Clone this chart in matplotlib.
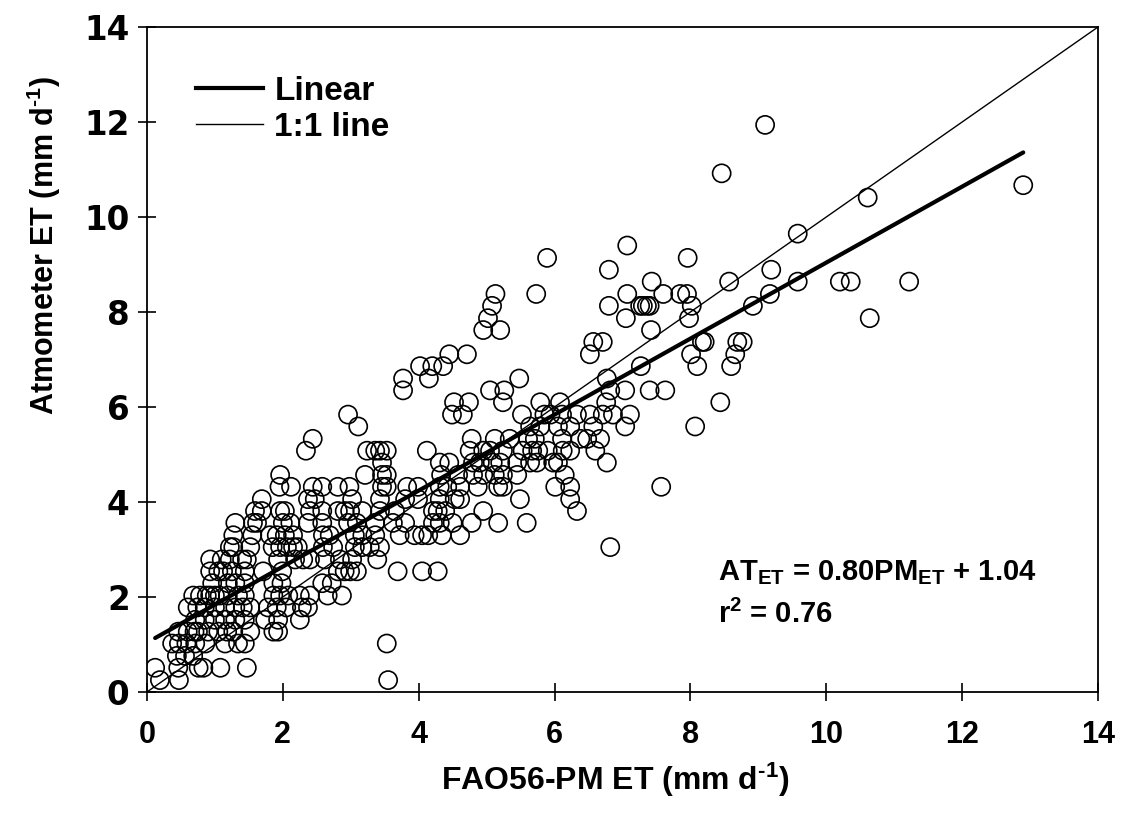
import matplotlib
matplotlib.use("Agg")
import matplotlib.pyplot as plt
from matplotlib.lines import Line2D

plt.rcParams['font.family'] = ['Liberation Sans', 'DejaVu Sans']
plt.rcParams['font.weight'] = 'bold'
plt.rcParams['mathtext.fontset'] = 'custom'
plt.rcParams['mathtext.rm'] = 'Liberation Sans:bold'
plt.rcParams['mathtext.bf'] = 'Liberation Sans:bold'
plt.rcParams['mathtext.it'] = 'Liberation Sans:bold'

# FAO56-PM ET (x) and atmometer ET (y)
pm_et = [
    0.19, 0.47, 3.55,
    0.12, 0.46, 0.76, 0.83, 1.08, 1.47,
    0.44, 0.56, 0.68,
    0.37, 0.47, 0.58, 0.71, 0.86, 1.15, 1.34, 1.44, 3.53,
    0.46, 0.60, 0.70, 0.75, 0.90, 1.05, 1.18, 1.27, 1.52, 1.86, 1.93,
    0.71, 0.85, 1.00, 1.15, 1.30, 1.44, 1.74, 1.93, 2.25,
    0.60, 0.74, 0.85, 1.00, 1.15, 1.30, 1.41, 1.52, 1.78, 1.91, 2.05, 2.28, 2.37,
    0.68, 0.78, 0.88, 0.93, 1.00, 1.07, 1.19, 1.34, 1.44, 1.86, 1.96, 2.08, 2.25, 2.40, 2.66, 2.87,
    0.96, 1.19, 1.30, 1.44, 1.86, 1.98, 2.58, 2.72,
    0.93, 1.05, 1.12, 1.25, 1.44, 1.71, 1.99, 2.81, 2.91, 2.99, 3.09, 3.69, 4.05, 4.28,
    0.93, 1.10, 1.22, 1.40, 1.47, 1.93, 2.18, 2.30, 2.40, 2.62, 2.84, 3.02, 3.39,
    1.22, 1.27, 1.52, 1.85, 1.96, 2.06, 2.15, 2.22, 2.59, 2.74, 3.06, 3.17, 3.28, 3.43, 6.82,
    1.27, 1.55, 1.81, 1.91, 2.03, 2.15, 2.59, 2.69, 3.06, 3.17, 3.36, 3.72, 3.94, 4.05, 4.14, 4.34, 4.61,
    1.30, 1.56, 1.62, 2.00, 2.11, 2.37, 2.58, 2.96, 3.09, 3.36, 3.62, 3.80, 4.21, 4.31, 4.50, 4.78, 5.17, 5.59,
    1.59, 1.69, 1.96, 2.03, 2.40, 2.58, 2.81, 2.91, 2.99, 3.17, 3.43, 3.65, 4.21, 4.28, 4.39, 4.95, 6.33,
    1.69, 2.37, 2.47, 3.02, 3.43, 3.80, 3.99, 4.31, 4.53, 4.61, 5.49, 6.23,
    1.95, 2.12, 2.44, 2.58, 2.81, 2.98, 3.46, 3.53, 3.83, 3.99, 4.31, 4.42, 4.61, 4.87, 5.17, 5.24, 6.01, 6.23, 7.57,
    1.96, 3.21, 3.46, 3.53, 4.33, 4.58, 4.80, 4.95, 5.12, 5.24, 5.45, 6.15,
    3.46, 4.31, 4.45, 4.80, 4.90, 5.09, 5.20, 5.45, 5.64, 5.74, 5.98, 6.05, 6.77,
    2.34, 3.24, 3.36, 3.43, 3.53, 4.12, 4.75, 4.95, 5.05, 5.24, 5.53, 5.67, 5.76, 5.90, 6.12, 6.23, 6.60,
    2.44, 4.78, 5.12, 5.34, 5.61, 5.71, 6.11, 6.38, 6.48, 6.67,
    3.11, 5.64, 5.79, 6.05, 6.23, 6.57, 7.04, 8.07,
    2.96, 4.49, 4.65, 5.52, 5.85, 5.94, 6.11, 6.33, 6.52, 6.71, 6.86, 7.11,
    4.52, 4.74, 5.24, 5.79, 6.08, 6.76, 8.44,
    3.77, 5.05, 5.26, 6.82, 7.04, 7.40, 7.63,
    3.77, 4.15, 5.48, 6.77,
    4.02, 4.20, 4.36, 7.27, 8.10, 8.60,
    4.45, 4.71, 6.52, 8.01, 8.66,
    6.57, 6.71, 8.17, 8.21, 8.69, 8.77,
    4.95, 5.20, 7.42,
    5.02, 7.05, 7.98, 10.64,
    5.08, 6.80, 7.26, 7.30, 7.36, 7.40, 8.02, 8.92,
    5.13, 5.73, 7.07, 7.60, 7.85, 7.95, 9.17,
    7.43, 8.57, 9.58, 10.20, 10.36, 11.22,
    6.80, 9.19,
    5.89, 7.96,
    7.07,
    9.58,
    10.61,
    12.90,
    8.46,
    9.10,
]
at_et = (
    [0.25] * 3 + [0.51] * 6 + [0.76] * 3 + [1.02] * 9 + [1.27] * 11
    + [1.52] * 9 + [1.78] * 13 + [2.03] * 16 + [2.29] * 8 + [2.54] * 14
    + [2.79] * 13 + [3.05] * 15 + [3.30] * 17 + [3.56] * 18 + [3.81] * 17
    + [4.06] * 12 + [4.32] * 19 + [4.57] * 12 + [4.83] * 13 + [5.08] * 17
    + [5.33] * 10 + [5.59] * 8 + [5.84] * 12 + [6.10] * 7 + [6.35] * 7
    + [6.60] * 4 + [6.86] * 6 + [7.11] * 5 + [7.37] * 6 + [7.62] * 3
    + [7.87] * 4 + [8.13] * 8 + [8.38] * 7 + [8.64] * 6 + [8.89] * 2
    + [9.14] * 2 + [9.40] + [9.65] + [10.41] + [10.67] + [10.92] + [11.94]
)

slope, intercept = 0.80, 1.04
fit_x = [0.12, 12.90]
ticks = [0, 2, 4, 6, 8, 10, 12, 14]

fig = plt.figure(figsize=(11.23, 8.32), dpi=100)
ax = fig.add_axes([0.1309, 0.1683, 0.8468, 0.7992])

ax.scatter(pm_et, at_et, s=170, facecolors='none', edgecolors='black',
           linewidths=1.2, zorder=3)
ax.plot([0, 14], [0, 14], color='black', lw=1.0, zorder=2)
ax.plot(fit_x, [slope * v + intercept for v in fit_x], color='black', lw=3.0,
        solid_capstyle='round', zorder=4)

ax.set_xlim(0, 14)
ax.set_ylim(0, 14)
ax.set_xticks(ticks)
ax.set_yticks(ticks)
ax.tick_params(direction='inout', length=13, width=1.2, labelsize=22,
               top=False, right=False)
ax.tick_params(axis='x', pad=14)
ax.tick_params(axis='y', pad=6)
for lab in ax.get_yticklabels():
    lab.set_fontfamily('DejaVu Sans')
    lab.set_fontsize(23.5)
for sp in ax.spines.values():
    sp.set_linewidth(1.3)

ax.set_xlabel(r'FAO56-PM ET (mm d$^{\mathbf{\text{-}1}}$)', fontsize=23, fontweight='bold')
ax.set_ylabel(r'Atmometer ET (mm d$^{\mathbf{\text{-}1}}$)', fontsize=22, fontweight='bold')
ax.xaxis.set_label_coords(0.493, -0.103)
ax.yaxis.set_label_coords(-0.088, 0.672)

handles = [Line2D([], [], color='black', lw=3.0),
           Line2D([], [], color='black', lw=1.0)]
ax.legend(handles, ['Linear', '1:1 line'], loc='upper left',
          bbox_to_anchor=(0.02, 0.972), frameon=False, fontsize=24,
          handlelength=2.0, handletextpad=0.35, labelspacing=0.15)

ax.text(0.600, 0.168, r'AT$_{\mathbf{ET}}$ = 0.80PM$_{\mathbf{ET}}$ + 1.04',
        transform=ax.transAxes, fontsize=21, fontweight='bold', va='baseline')
ax.text(0.600, 0.103, r'r$^{\mathbf{2}}$ = 0.76',
        transform=ax.transAxes, fontsize=21, fontweight='bold', va='baseline')

fig.savefig('out.png', dpi=100)
